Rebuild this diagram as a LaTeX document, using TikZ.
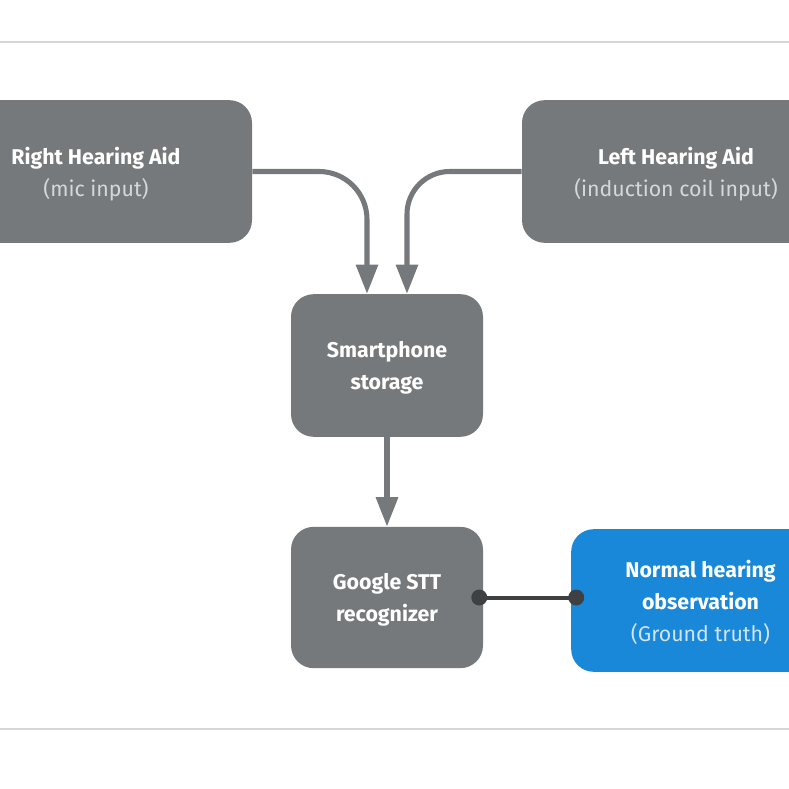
\documentclass[tikz,border=0pt]{standalone}
\usepackage{fontspec}
\setmainfont{Fira Sans}
\usetikzlibrary{arrows.meta}

\definecolor{boxgray}{HTML}{76797B}
\definecolor{boxblue}{HTML}{1A88D8}
\definecolor{subgray}{HTML}{D6D7D8}
\definecolor{subblue}{HTML}{CFE4F6}
\definecolor{rulegray}{HTML}{D5D6D6}
\definecolor{linkgray}{HTML}{3E4042}

\begin{document}
\begin{tikzpicture}[
        x=0.75pt, y=-0.75pt,
        box/.style={rectangle, rounded corners=17pt, fill=boxgray, text=white,
            align=center, minimum height=107pt, inner sep=0pt, text depth=-1pt,
            font=\fontsize{16}{24}\selectfont\bfseries},
        flow/.style={draw=boxgray, line width=3.8pt,
            -{Triangle[length=22pt, width=16pt]}},
        link/.style={draw=linkgray, line width=3pt},
        linkdot/.style={fill=linkgray}
    ]
    \useasboundingbox (0,0) rectangle (789,789);
    \clip (0,0) rectangle (789,789);

    \draw[rulegray, line width=1.5pt] (0,42) -- (789,42);
    \draw[rulegray, line width=1.5pt] (0,729) -- (789,729);

    \node[box, minimum width=234pt] (rha) at (96,171.5)
        {Right Hearing Aid\\{\mdseries\color{subgray}(mic input)}};
    \node[box, minimum width=231pt] (lha) at (676,171.5)
        {Left Hearing Aid\\{\mdseries\color{subgray}(induction coil input)}};
    \node[box, minimum width=144pt] (phone) at (387,365.5)
        {Smartphone\\storage};
    \node[box, minimum width=144pt, minimum height=106pt] (stt) at (387,597.5)
        {Google STT\\recognizer};
    \node[box, fill=boxblue, minimum width=194pt] (truth) at (700.5,600.5)
        {Normal hearing\\observation\\{\mdseries\color{subblue}(Ground truth)}};

    \draw[flow, rounded corners=36pt] (rha.east) -| ([xshift=-15pt]phone.north);
    \draw[flow, rounded corners=32pt] (lha.west) -| ([xshift=15pt]phone.north);
    \draw[flow] (phone.south) -- (stt.north);

    \coordinate (sttdot) at ([xshift=-3pt]stt.east);
    \coordinate (truthedge) at (truth.west |- stt.east);
    \coordinate (truthdot) at ([xshift=4pt]truthedge);
    \draw[link] (sttdot) -- (truthdot);
    \fill[linkdot] (sttdot) circle (6pt);
    \fill[linkdot] (truthdot) circle (6pt);
\end{tikzpicture}
\end{document}
